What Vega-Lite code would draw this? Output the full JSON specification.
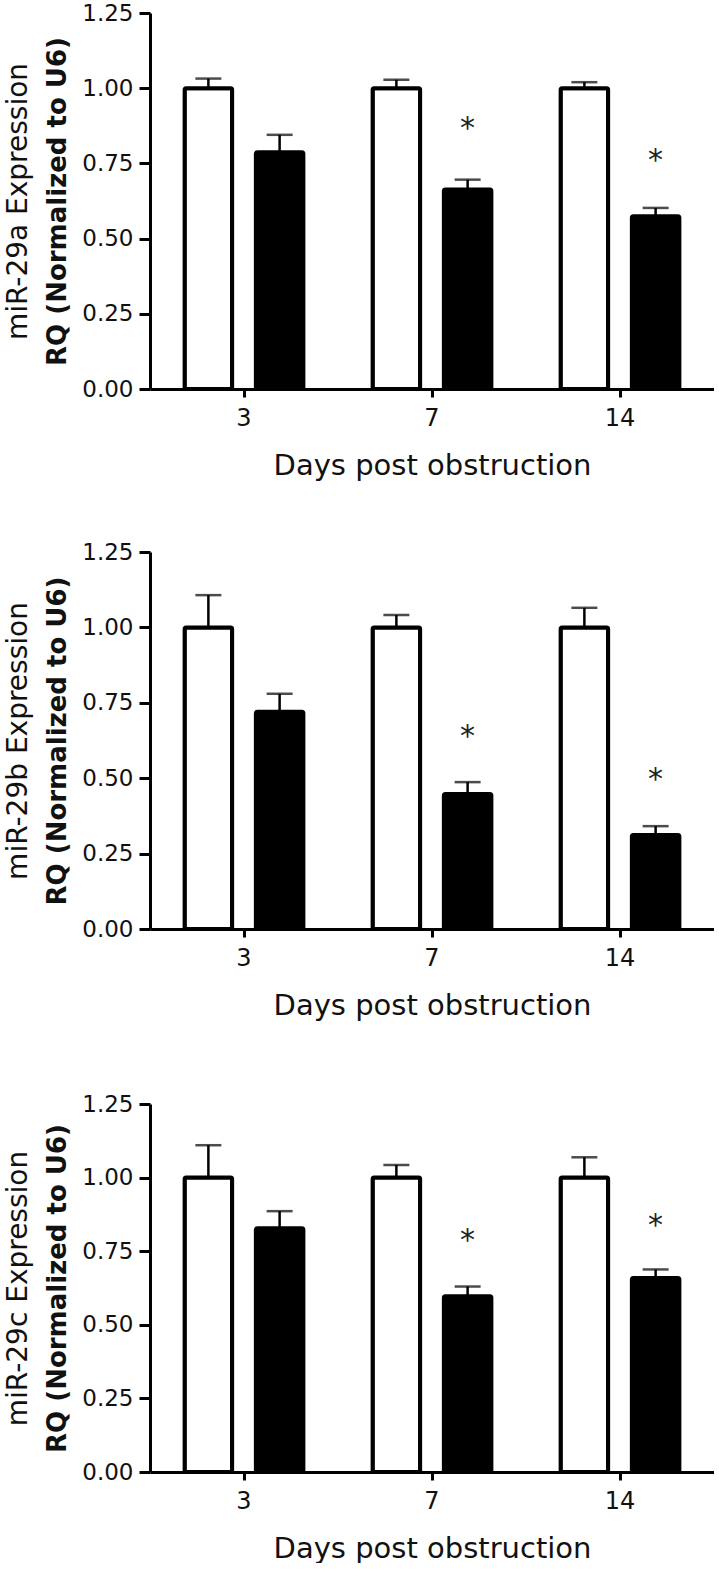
{
  "$schema": "https://vega.github.io/schema/vega-lite/v6.json",
  "padding": {"left": 4, "top": 2, "right": 0, "bottom": 0},
  "background": "white",
  "config": {
    "font": "DejaVu Sans",
    "view": {"stroke": null},
    "axis": {"grid": false, "domainColor": "black", "domainWidth": 3, "tickColor": "black", "tickWidth": 3, "labelColor": "#111", "titleColor": "#111", "labelFont": "DejaVu Sans", "titleFont": "DejaVu Sans"}
  },
  "datasets": {
    "a": [
      {"day": 3, "group": "Sham", "value": 1.0, "upper": 1.032, "star": null},
      {"day": 3, "group": "UUO", "value": 0.787, "upper": 0.845, "star": null},
      {"day": 7, "group": "Sham", "value": 1.0, "upper": 1.028, "star": null},
      {"day": 7, "group": "UUO", "value": 0.663, "upper": 0.696, "star": 0.89},
      {"day": 14, "group": "Sham", "value": 1.0, "upper": 1.02, "star": null},
      {"day": 14, "group": "UUO", "value": 0.574, "upper": 0.602, "star": 0.785}
    ],
    "b": [
      {"day": 3, "group": "Sham", "value": 1.0, "upper": 1.107, "star": null},
      {"day": 3, "group": "UUO", "value": 0.72, "upper": 0.78, "star": null},
      {"day": 7, "group": "Sham", "value": 1.0, "upper": 1.041, "star": null},
      {"day": 7, "group": "UUO", "value": 0.448, "upper": 0.487, "star": 0.662},
      {"day": 14, "group": "Sham", "value": 1.0, "upper": 1.065, "star": null},
      {"day": 14, "group": "UUO", "value": 0.312, "upper": 0.341, "star": 0.52}
    ],
    "c": [
      {"day": 3, "group": "Sham", "value": 1.0, "upper": 1.11, "star": null},
      {"day": 3, "group": "UUO", "value": 0.828, "upper": 0.886, "star": null},
      {"day": 7, "group": "Sham", "value": 1.0, "upper": 1.043, "star": null},
      {"day": 7, "group": "UUO", "value": 0.597, "upper": 0.63, "star": 0.812},
      {"day": 14, "group": "Sham", "value": 1.0, "upper": 1.069, "star": null},
      {"day": 14, "group": "UUO", "value": 0.659, "upper": 0.688, "star": 0.862}
    ]
  },
  "spacing": 61,
  "vconcat": [
    {
      "width": 564, "height": 376,
      "data": {"name": "a"},
      "layer": [
        {"mark": {"type": "bar", "stroke": "black", "strokeWidth": 4, "cornerRadius": 1.5},
         "encoding": {
           "x": {"field": "day", "type": "ordinal", "scale": {"paddingInner": 0, "paddingOuter": 0}, "axis": {"title": "Days post obstruction", "labelAngle": 0, "labelFontSize": 24, "labelPadding": 9, "tickSize": 8, "titleFontSize": 29, "titleFontWeight": "normal", "titlePadding": 21}},
           "xOffset": {"field": "group", "type": "nominal", "scale": {"paddingInner": 0.333, "paddingOuter": 0.486}},
           "y": {"field": "value", "type": "quantitative", "scale": {"domain": [0, 1.25], "nice": false}, "axis": {"values": [0, 0.25, 0.5, 0.75, 1, 1.25], "format": ".2f", "labelFontSize": 23, "labelPadding": 6, "tickSize": 11, "title": "RQ (Normalized to U6)", "titleFontSize": 26, "titleFontWeight": "bold", "titlePadding": 11}},
           "fill": {"field": "group", "type": "nominal", "scale": {"domain": ["Sham", "UUO"], "range": ["white", "black"]}, "legend": null}
         }},
        {"mark": {"type": "rule", "strokeWidth": 2.5, "color": "black"},
         "encoding": {
           "x": {"field": "day", "type": "ordinal"},
           "xOffset": {"field": "group", "type": "nominal"},
           "y": {"field": "value", "type": "quantitative", "axis": {"orient": "left", "title": "miR-29a Expression", "labels": false, "ticks": false, "domain": false, "titleFontSize": 28, "titleFontWeight": "normal", "titlePadding": 118}},
           "y2": {"field": "upper"}
         }},
        {"mark": {"type": "tick", "thickness": 2.5, "size": 26, "color": "black"},
         "encoding": {
           "x": {"field": "day", "type": "ordinal"},
           "xOffset": {"field": "group", "type": "nominal"},
           "y": {"field": "upper", "type": "quantitative", "axis": null}
         }},
        {"transform": [{"filter": "datum.star != null"}],
         "mark": {"type": "text", "text": "*", "fontSize": 30, "baseline": "alphabetic", "dy": 17, "color": "#222"},
         "encoding": {
           "x": {"field": "day", "type": "ordinal"},
           "xOffset": {"field": "group", "type": "nominal"},
           "y": {"field": "star", "type": "quantitative", "axis": null}
         }}
      ],
      "resolve": {"axis": {"y": "independent"}}
    },
    {
      "spacing": 73,
      "vconcat": [
        {
          "width": 564, "height": 377,
          "data": {"name": "b"},
          "layer": [
            {"mark": {"type": "bar", "stroke": "black", "strokeWidth": 4, "cornerRadius": 1.5},
             "encoding": {
               "x": {"field": "day", "type": "ordinal", "scale": {"paddingInner": 0, "paddingOuter": 0}, "axis": {"title": "Days post obstruction", "labelAngle": 0, "labelFontSize": 24, "labelPadding": 9, "tickSize": 8, "titleFontSize": 29, "titleFontWeight": "normal", "titlePadding": 21}},
               "xOffset": {"field": "group", "type": "nominal", "scale": {"paddingInner": 0.333, "paddingOuter": 0.486}},
               "y": {"field": "value", "type": "quantitative", "scale": {"domain": [0, 1.25], "nice": false}, "axis": {"values": [0, 0.25, 0.5, 0.75, 1, 1.25], "format": ".2f", "labelFontSize": 23, "labelPadding": 6, "tickSize": 11, "title": "RQ (Normalized to U6)", "titleFontSize": 26, "titleFontWeight": "bold", "titlePadding": 11}},
               "fill": {"field": "group", "type": "nominal", "scale": {"domain": ["Sham", "UUO"], "range": ["white", "black"]}, "legend": null}
             }},
            {"mark": {"type": "rule", "strokeWidth": 2.5, "color": "black"},
             "encoding": {
               "x": {"field": "day", "type": "ordinal"},
               "xOffset": {"field": "group", "type": "nominal"},
               "y": {"field": "value", "type": "quantitative", "axis": {"orient": "left", "title": "miR-29b Expression", "labels": false, "ticks": false, "domain": false, "titleFontSize": 28, "titleFontWeight": "normal", "titlePadding": 118}},
               "y2": {"field": "upper"}
             }},
            {"mark": {"type": "tick", "thickness": 2.5, "size": 26, "color": "black"},
             "encoding": {
               "x": {"field": "day", "type": "ordinal"},
               "xOffset": {"field": "group", "type": "nominal"},
               "y": {"field": "upper", "type": "quantitative", "axis": null}
             }},
            {"transform": [{"filter": "datum.star != null"}],
             "mark": {"type": "text", "text": "*", "fontSize": 30, "baseline": "alphabetic", "dy": 17, "color": "#222"},
             "encoding": {
               "x": {"field": "day", "type": "ordinal"},
               "xOffset": {"field": "group", "type": "nominal"},
               "y": {"field": "star", "type": "quantitative", "axis": null}
             }}
          ],
          "resolve": {"axis": {"y": "independent"}}
        },
        {
          "width": 564, "height": 368,
          "data": {"name": "c"},
          "layer": [
            {"mark": {"type": "bar", "stroke": "black", "strokeWidth": 4, "cornerRadius": 1.5},
             "encoding": {
               "x": {"field": "day", "type": "ordinal", "scale": {"paddingInner": 0, "paddingOuter": 0}, "axis": {"title": "Days post obstruction", "labelAngle": 0, "labelFontSize": 24, "labelPadding": 9, "tickSize": 8, "titleFontSize": 29, "titleFontWeight": "normal", "titlePadding": 21}},
               "xOffset": {"field": "group", "type": "nominal", "scale": {"paddingInner": 0.333, "paddingOuter": 0.486}},
               "y": {"field": "value", "type": "quantitative", "scale": {"domain": [0, 1.25], "nice": false}, "axis": {"values": [0, 0.25, 0.5, 0.75, 1, 1.25], "format": ".2f", "labelFontSize": 23, "labelPadding": 6, "tickSize": 11, "title": "RQ (Normalized to U6)", "titleFontSize": 26, "titleFontWeight": "bold", "titlePadding": 11}},
               "fill": {"field": "group", "type": "nominal", "scale": {"domain": ["Sham", "UUO"], "range": ["white", "black"]}, "legend": null}
             }},
            {"mark": {"type": "rule", "strokeWidth": 2.5, "color": "black"},
             "encoding": {
               "x": {"field": "day", "type": "ordinal"},
               "xOffset": {"field": "group", "type": "nominal"},
               "y": {"field": "value", "type": "quantitative", "axis": {"orient": "left", "title": "miR-29c Expression", "labels": false, "ticks": false, "domain": false, "titleFontSize": 28, "titleFontWeight": "normal", "titlePadding": 118}},
               "y2": {"field": "upper"}
             }},
            {"mark": {"type": "tick", "thickness": 2.5, "size": 26, "color": "black"},
             "encoding": {
               "x": {"field": "day", "type": "ordinal"},
               "xOffset": {"field": "group", "type": "nominal"},
               "y": {"field": "upper", "type": "quantitative", "axis": null}
             }},
            {"transform": [{"filter": "datum.star != null"}],
             "mark": {"type": "text", "text": "*", "fontSize": 30, "baseline": "alphabetic", "dy": 17, "color": "#222"},
             "encoding": {
               "x": {"field": "day", "type": "ordinal"},
               "xOffset": {"field": "group", "type": "nominal"},
               "y": {"field": "star", "type": "quantitative", "axis": null}
             }}
          ],
          "resolve": {"axis": {"y": "independent"}}
        }
      ]
    }
  ]
}
